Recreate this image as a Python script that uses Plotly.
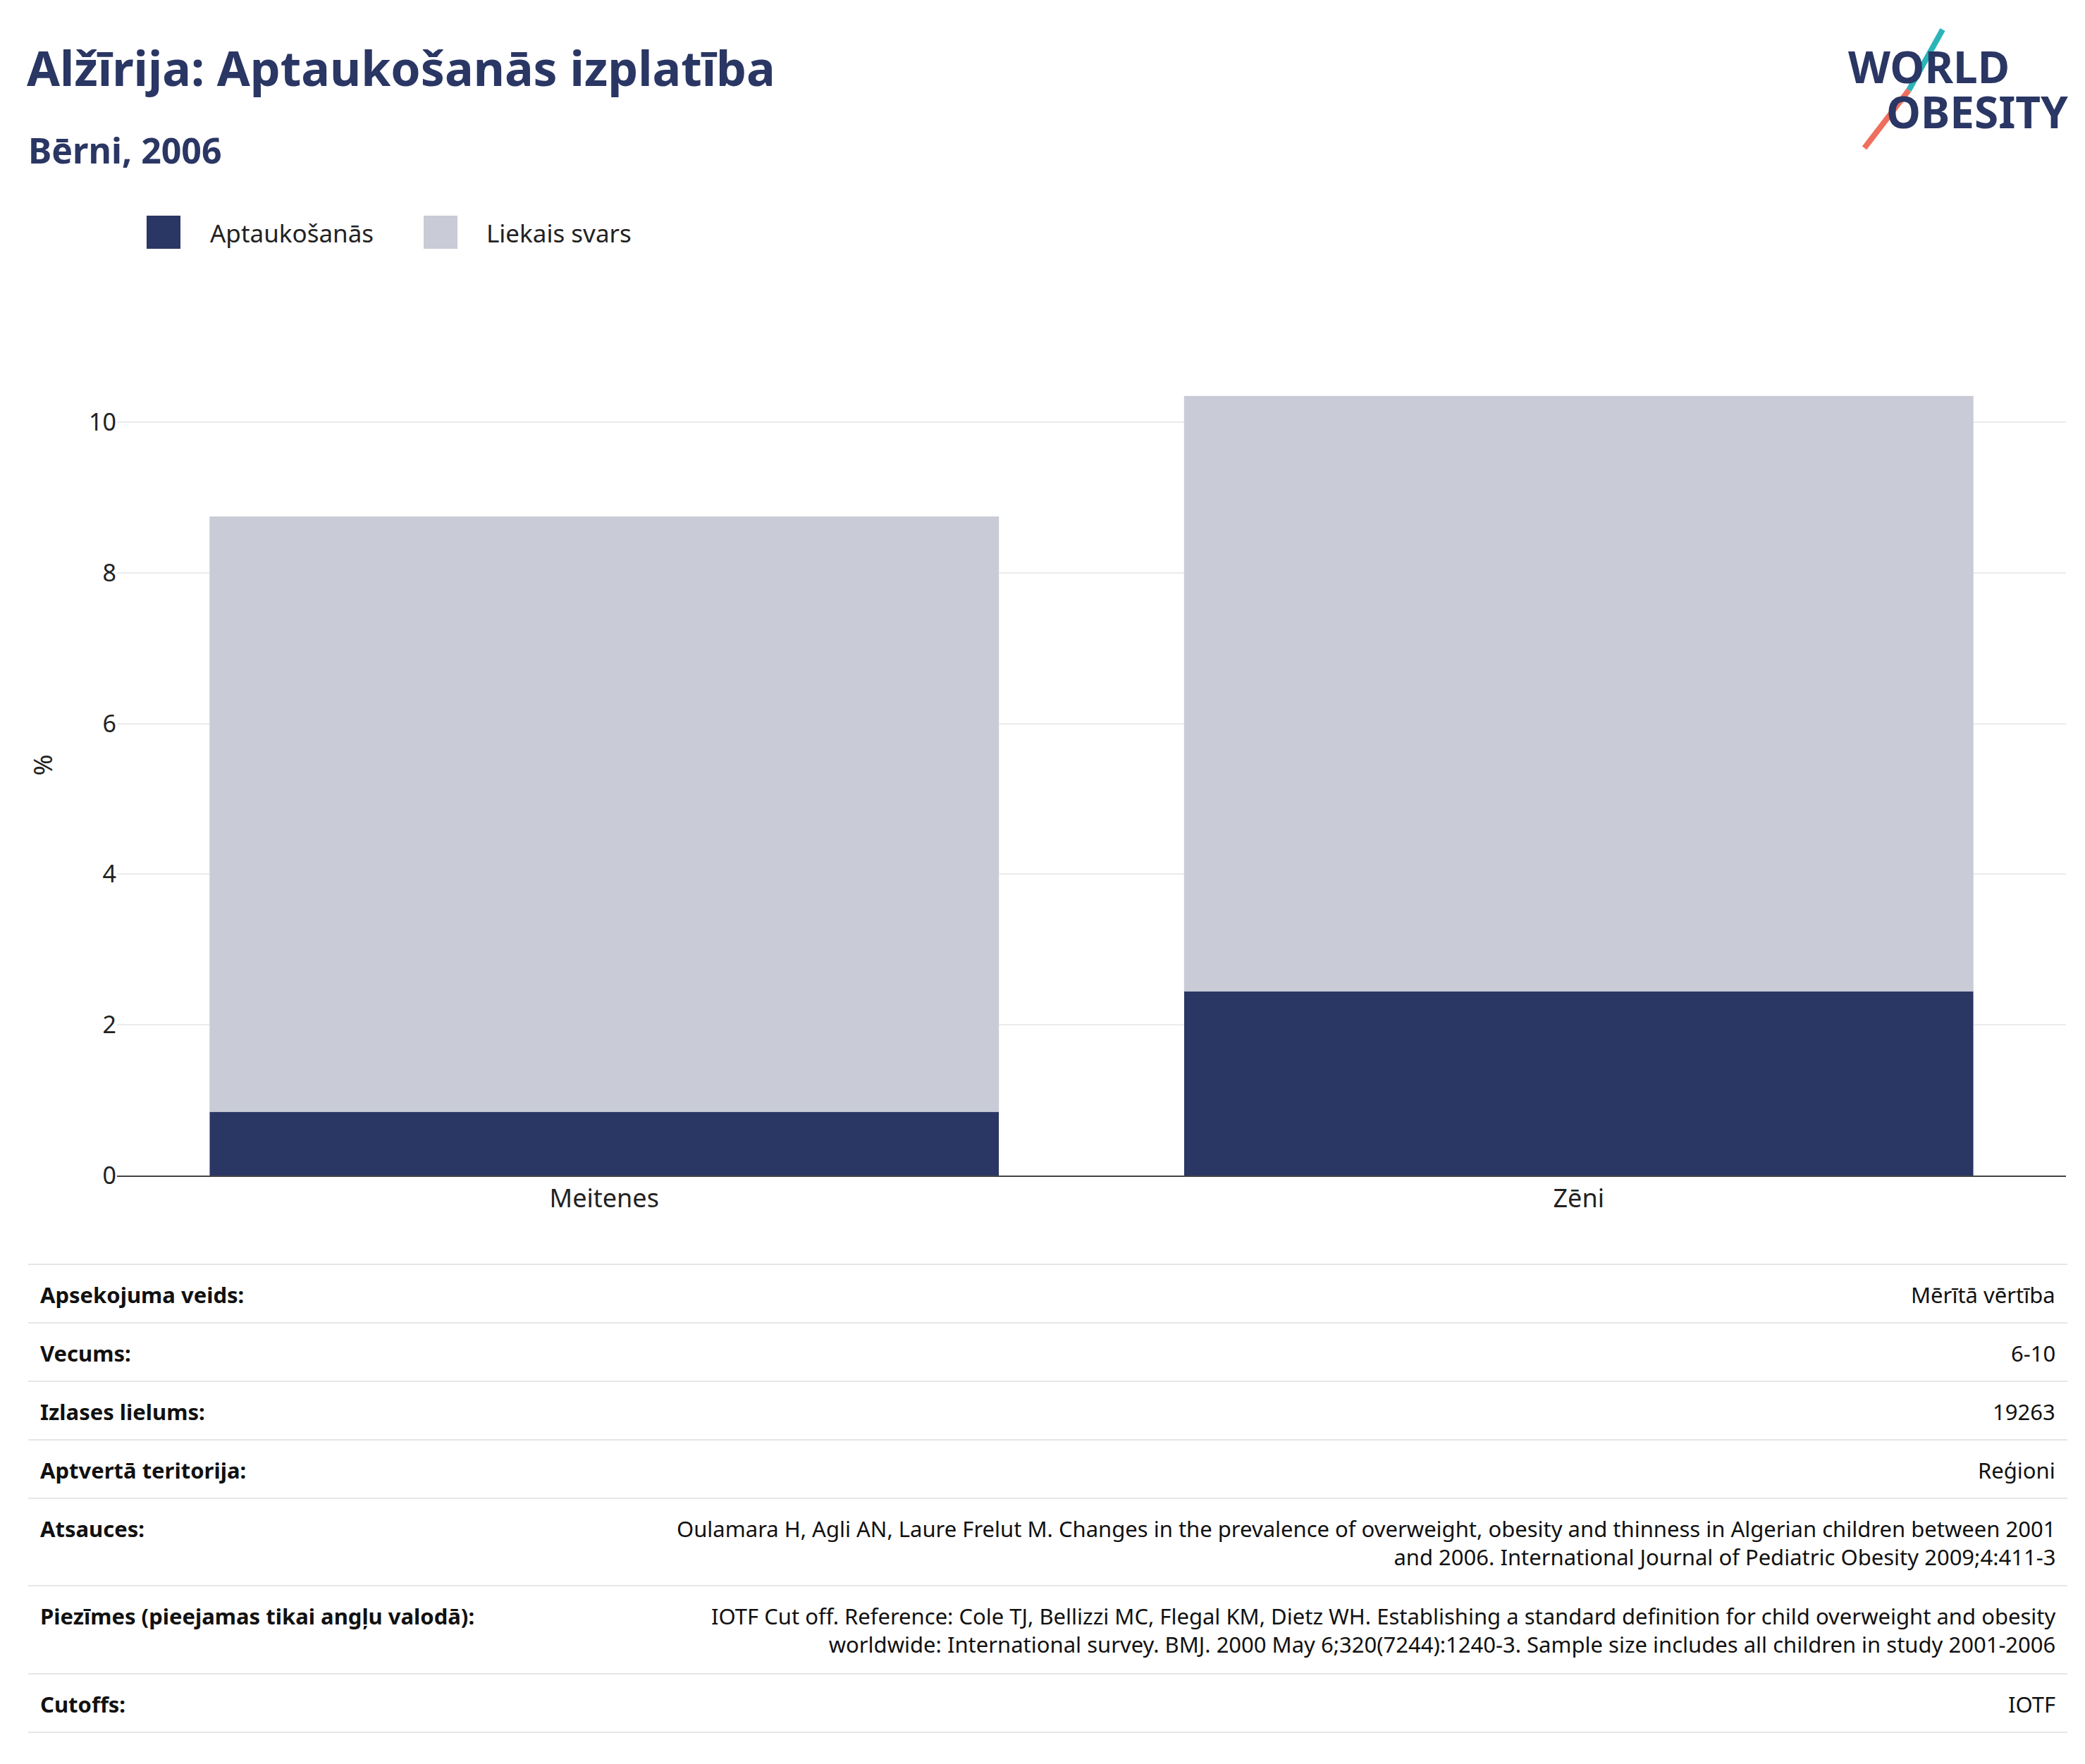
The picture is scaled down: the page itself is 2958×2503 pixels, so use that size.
import plotly.graph_objects as go

categories = ["Meitenes", "Zēni"]
obesity = [0.85, 2.45]
overweight = [7.9, 7.9]

table_labels = ["Apsekojuma veids:", "Vecums:", "Izlases lielums:", "Aptvertā teritorija:",
                "Atsauces:", "Piezīmes (pieejamas tikai angļu valodā):", "Cutoffs:"]
table_values = [
    "Mērītā vērtība", "6-10", "19263", "Reģioni",
    "Oulamara H, Agli AN, Laure Frelut M. Changes in the prevalence of overweight, obesity and thinness in Algerian children between 2001<br>and 2006. International Journal of Pediatric Obesity 2009;4:411-3",
    "IOTF Cut off. Reference: Cole TJ, Bellizzi MC, Flegal KM, Dietz WH. Establishing a standard definition for child overweight and obesity<br>worldwide: International survey. BMJ. 2000 May 6;320(7244):1240-3. Sample size includes all children in study 2001-2006",
    "IOTF",
]

W, H = 2958, 2503
L, R, T, B = 158, 2923, 495, 1660
NAVY = "#2a3663"
GREY = "#c9cbd6"
FONT = "Noto Sans"


def px(x):
    return (x - L) / (R - L)


def py(y):
    return (B - y) / (B - T)


def note(x, y, text, size, color="#111", xanchor="left", yanchor="middle", align="left"):
    return dict(x=px(x), y=py(y), xref="paper", yref="paper", text=text,
                font=dict(size=size, color=color), xanchor=xanchor, yanchor=yanchor,
                showarrow=False, align=align)


fig = go.Figure()
fig.add_trace(go.Bar(x=categories, y=obesity, name="Aptaukošanās", marker_color=NAVY))
fig.add_trace(go.Bar(x=categories, y=overweight, name="Liekais svars", marker_color=GREY))

ann = [
    note(28, 88, "<b>Alžīrija: Aptaukošanās izplatība</b>", 68, NAVY),
    note(30, 205, "<b>Bērni, 2006</b>", 50, NAVY),
    note(2612, 86, "<b>WORLD</b>", 62, NAVY),
    note(2928, 150, "<b>OBESITY</b>", 62, NAVY, xanchor="right"),
    note(288, 322, "Aptaukošanās", 35, "#222"),
    note(680, 322, "Liekais svars", 35, "#222"),
]
shapes = [
    dict(type="line", xref="paper", yref="paper", x0=px(2700), y0=py(120), x1=px(2748), y1=py(34),
         line=dict(color="#2bb5b8", width=8)),
    dict(type="line", xref="paper", yref="paper", x0=px(2637), y0=py(202), x1=px(2700), y1=py(120),
         line=dict(color="#ef6f5e", width=8)),
    dict(type="rect", xref="paper", yref="paper", x0=px(200), x1=px(248), y0=py(298), y1=py(345),
         fillcolor=NAVY, line=dict(width=0)),
    dict(type="rect", xref="paper", yref="paper", x0=px(593), x1=px(641), y0=py(298), y1=py(345),
         fillcolor=GREY, line=dict(width=0)),
]

lines = [1786, 1869, 1952, 2035, 2118, 2242, 2367, 2450]
for i, (lab, val) in enumerate(zip(table_labels, table_values)):
    ytxt = lines[i] + 20
    ann.append(note(47, ytxt, f"<b>{lab}</b>", 31, yanchor="top"))
    ann.append(note(2910, ytxt, val, 31, xanchor="right", yanchor="top", align="right"))
for y in lines:
    shapes.append(dict(type="line", xref="paper", yref="paper", x0=px(32), x1=px(2925), y0=py(y), y1=py(y),
                       line=dict(color="#e6e6e6", width=2)))

fig.update_layout(
    width=W, height=H,
    margin=dict(l=L, r=W - R, t=T, b=H - B),
    barmode="stack", bargap=0.19,
    plot_bgcolor="white", paper_bgcolor="white",
    font=dict(family=FONT, size=34, color="#222"),
    showlegend=False,
    xaxis=dict(showline=True, linecolor="#444", linewidth=2, tickfont=dict(size=36)),
    yaxis=dict(range=[0, 10.9], dtick=2, gridcolor="#ebebeb", gridwidth=2, zeroline=False,
               title=dict(text="%", font=dict(size=36), standoff=40), ticks="", ticklen=10),
    annotations=ann, shapes=shapes,
)

fig.write_html("out.html")
